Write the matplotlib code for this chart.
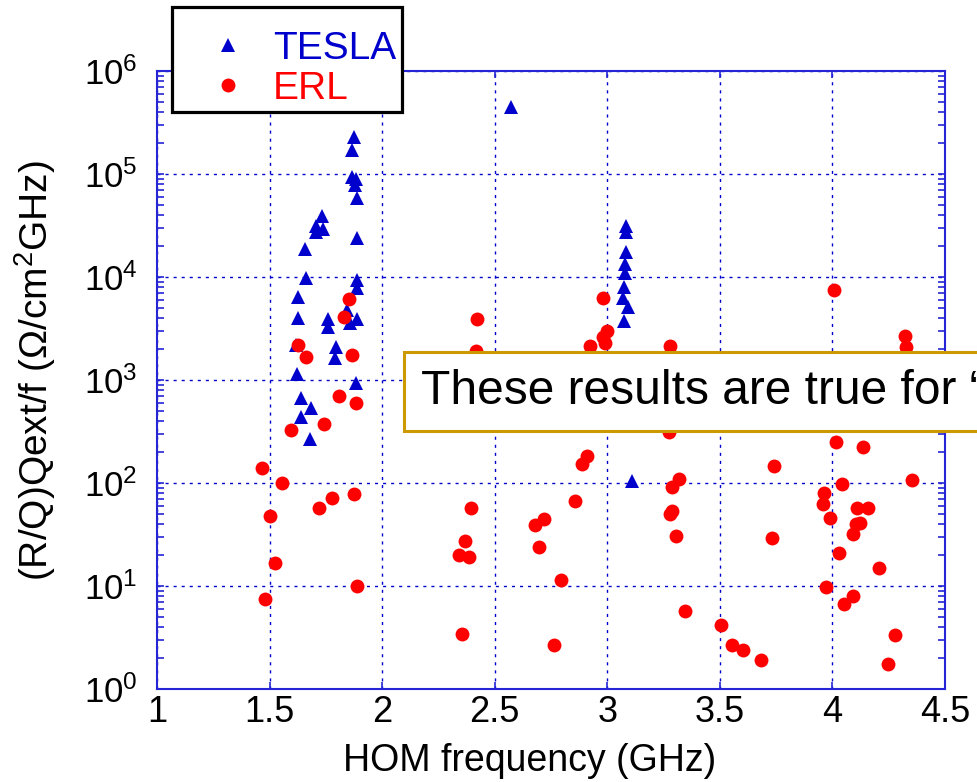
import matplotlib
matplotlib.use("Agg")
import matplotlib.pyplot as plt
from matplotlib.ticker import LogLocator, NullFormatter, FixedLocator

plt.rcParams['font.family'] = ['Liberation Sans', 'DejaVu Sans']
plt.rcParams['mathtext.fontset'] = 'custom'
plt.rcParams['mathtext.rm'] = 'Liberation Sans'
plt.rcParams['mathtext.it'] = 'Liberation Sans:italic'
plt.rcParams['mathtext.bf'] = 'Liberation Sans:bold'

# ---- data ----
tesla_f = [1.875, 1.865, 1.865, 1.884, 1.879, 1.887, 1.734, 1.706, 1.736, 1.706,
           1.887, 1.657, 1.662, 1.890, 1.890, 1.628, 1.628, 1.761, 1.761, 1.843,
           1.857, 1.887, 1.617, 1.795, 1.790, 1.620, 1.884, 1.640, 1.683, 1.640,
           1.680, 2.572, 3.083, 3.083, 3.083, 3.079, 3.079, 3.075, 3.072, 3.094,
           3.075, 3.111]
tesla_v = [2.3e5, 1.7e5, 9.3e4, 8.9e4, 7.8e4, 5.9e4, 3.9e4, 3.1e4, 2.95e4, 2.75e4,
           2.37e4, 1.86e4, 9.7e3, 9.3e3, 7.8e3, 6.45e3, 4.0e3, 3.9e3, 3.24e3, 4.8e3,
           3.55e3, 3.9e3, 2.2e3, 2.1e3, 1.62e3, 1.14e3, 930, 665, 531, 441,
           270, 4.5e5, 3.1e4, 2.75e4, 1.76e4, 1.35e4, 1.1e4, 8.06e3, 6.2e3, 5.1e3,
           3.7e3, 104]

erl_f = [1.854, 1.831, 1.628, 1.660, 1.868, 1.807, 1.883, 1.743, 1.595,
         1.468, 1.554, 1.721, 1.776, 1.876, 1.502, 1.525, 1.887, 1.481,
         2.980, 2.423, 2.998, 2.983, 2.990, 2.923, 3.279, 2.418,
         3.276, 2.908, 2.886, 3.319, 3.286, 2.393, 2.855, 2.720, 2.679, 3.289,
         3.279, 3.304, 2.368, 2.341, 2.387, 2.695, 2.796, 3.344, 2.355, 2.763,
         4.007, 4.322, 4.326, 4.014, 4.137, 3.741, 4.352, 3.963, 4.041, 3.960,
         3.989, 4.108, 4.160, 4.122, 4.103, 4.093, 3.732, 4.028, 4.208, 3.970,
         4.090, 4.051, 3.505, 3.553, 3.604, 3.683, 4.277, 4.248]
erl_v = [6.1e3, 4.1e3, 2.2e3, 1.66e3, 1.75e3, 705, 600, 370, 325,
         140, 100, 57, 72, 78, 48, 16.6, 10, 7.5,
         6.3e3, 3.9e3, 3.0e3, 2.6e3, 2.3e3, 2.14e3, 2.14e3, 1.9e3,
         310, 182, 152, 109, 91, 57, 67, 45, 39, 54,
         50, 30.6, 27.4, 20, 19.2, 23.8, 11.5, 5.7, 3.4, 2.7,
         7.5e3, 2.7e3, 2.08e3, 251, 222, 146, 107, 80, 97, 63,
         46, 57.6, 57.6, 40.5, 40, 31.7, 29.4, 21, 15, 9.8,
         8.05, 6.7, 4.2, 2.67, 2.39, 1.91, 3.34, 1.74]

series_labels = ['TESLA', 'ERL']
x_ticks = [1, 1.5, 2, 2.5, 3, 3.5, 4, 4.5]
x_tick_labels = ['1', '1.5', '2', '2.5', '3', '3.5', '4', '4.5']
x_label = 'HOM frequency (GHz)'
y_label = '(R/Q)Qext/f (Ω/cm$^{2}$GHz)'
note_text = 'These results are true for “'

# ---- figure ----
W, H = 978, 782
fig = plt.figure(figsize=(W / 100, H / 100), dpi=100)
ax = fig.add_axes([157 / W, 1 - 689 / H, (945 - 157) / W, (689 - 71) / H])

blue = '#0000CC'
red = '#FF0000'
axis_blue = '#2525D5'

ax.plot(tesla_f, tesla_v, linestyle='none', marker='^', markersize=10.5,
        color=blue, markeredgewidth=0, label=series_labels[0], zorder=3)
ax.plot(erl_f, erl_v, linestyle='none', marker='o', markersize=10,
        color=red, markeredgewidth=0, label=series_labels[1], zorder=4)

ax.set_yscale('log')
ax.set_xlim(1, 4.5)
ax.set_ylim(1, 1e6)
ax.xaxis.set_major_locator(FixedLocator(x_ticks))
ax.set_xticklabels(x_tick_labels)
ax.yaxis.set_major_locator(LogLocator(base=10, numticks=10))
ax.yaxis.set_minor_locator(LogLocator(base=10, subs=range(2, 10), numticks=20))
ax.yaxis.set_minor_formatter(NullFormatter())

ax.grid(True, which='major', color=blue, linestyle=(0, (2.2, 3.6)), linewidth=1.0)
for s in ax.spines.values():
    s.set_color(axis_blue)
    s.set_linewidth(1.5)

ax.tick_params(axis='both', which='both', direction='in', colors=axis_blue,
               top=True, right=True, labelcolor='black')
ax.tick_params(axis='both', which='major', length=5, width=1.2)
ax.tick_params(axis='y', which='minor', length=5, width=1.2)
ax.tick_params(axis='x', which='major', labelsize=26, pad=4)
ax.tick_params(axis='y', which='major', labelsize=25, pad=14)

ax.set_xlabel(x_label, fontsize=27)
ax.xaxis.set_label_coords(0.473, -0.087)
ax.set_ylabel(y_label, fontsize=28)
ax.yaxis.set_label_coords(-0.126, 0.516)

leg = ax.legend(loc='upper left', bbox_to_anchor=(172 / W, 1 - 7 / H),
                bbox_transform=fig.transFigure, borderaxespad=0,
                fontsize=28, frameon=True, fancybox=False, framealpha=1,
                edgecolor='black', borderpad=0.15, labelspacing=0.1,
                handlelength=2.58, handletextpad=-0.14, numpoints=1,
                labelcolor=[blue, red], title=' ', title_fontsize=11)
leg.get_frame().set_linewidth(2.3)

fig.text(421 / W, 1 - 404 / H, note_text, fontsize=34.5, color='black',
         ha='left', va='baseline',
         bbox=dict(boxstyle='square,pad=0.36', facecolor='white',
                   edgecolor='#CC9900', linewidth=2.2))

fig.savefig('out.png', dpi=100)
